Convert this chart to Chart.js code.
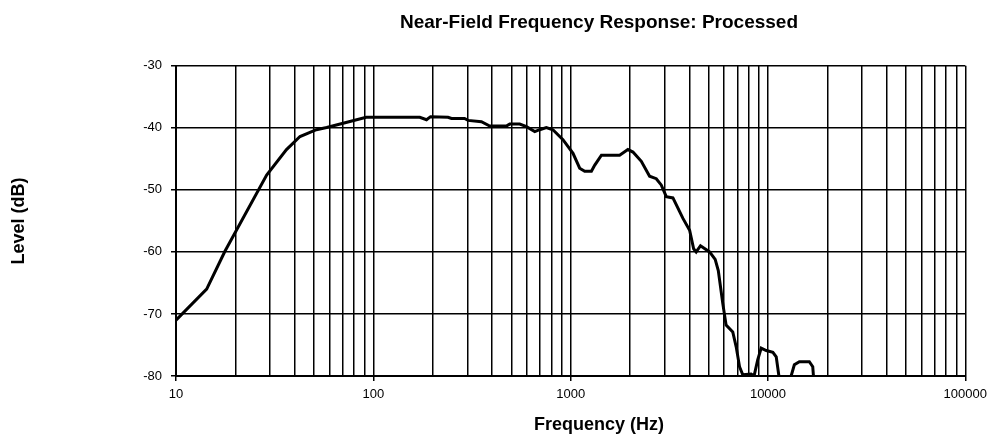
<!DOCTYPE html>
<html>
<head>
<meta charset="utf-8">
<title>Near-Field Frequency Response: Processed</title>
<script src="https://cdn.jsdelivr.net/npm/chart.js@4.4.1/dist/chart.umd.min.js"></script>
<style>
    html, body { margin: 0; padding: 0; background: #fff; }
    #wrap { width: 993px; height: 437px; }
</style>
</head>
<body>
<div id="wrap"><canvas id="response"></canvas></div>
<script>
// Frequency (Hz) and level (dB)
const frequencies = [
    10, 14.3, 17.7, 28.8, 36.3, 42.5, 51.5, 58, 70.3, 92,
    172, 186, 195, 239, 249, 290, 302, 353, 389, 472,
    491, 552, 597, 658, 697, 753, 813, 914, 1028, 1111,
    1178, 1274, 1325, 1432, 1771, 1950, 2069, 2281, 2512, 2716,
    2877, 3053, 3298, 3707, 4008, 4200, 4325, 4550, 5058, 5400,
    5600, 5900, 6135, 6630, 6900, 7175, 7450, 8220, 8500, 8870,
    9240, 9800, 10590, 11010, 11360, 11600, 12800, 13100, 13600, 14420,
    16200, 16860, 17000, 17300, 20000
]
const levels = [
    -71, -66, -59.9, -47.6, -43.5, -41.4, -40.3, -39.95, -39.25, -38.3,
    -38.3, -38.7, -38.2, -38.3, -38.5, -38.5, -38.8, -39.0, -39.7, -39.7,
    -39.4, -39.4, -39.8, -40.6, -40.3, -39.95, -40.3, -41.9, -44.1, -46.5,
    -47.0, -47.0, -46.0, -44.4, -44.4, -43.5, -43.9, -45.4, -47.8, -48.2,
    -49.2, -51.1, -51.3, -54.6, -56.5, -59.5, -60.0, -59.0, -60.0, -61.2,
    -63.0, -68.3, -71.8, -72.9, -75.3, -78.5, -79.8, -79.7, -80, -77.4,
    -75.5, -75.9, -76.2, -76.9, -80, -86, -86, -80, -78.2, -77.7,
    -77.7, -78.5, -80, -86, -86
]

const decadeLabels = [10, 100, 1000, 10000, 100000]
const levelTicks = [-80, -70, -60, -50, -40, -30]

const fontFamily = '"Liberation Sans", Arial, Helvetica, sans-serif'
// both titles sit centred a little right of the plot centre
const titleCenterX = 599

// grid lines at 1..9 x each decade, labels only on decades
const gridValues = []
decadeLabels.forEach((d, i) => {
    if (i === decadeLabels.length - 1) {
        gridValues.push(d)
        return
    }
    for (let k = 1; k <= 9; k++) gridValues.push(k * d)
})

const isDecade = (v) => decadeLabels.includes(v)

const points = frequencies.map((f, i) => ({ x: f, y: levels[i] }))

const shiftTitles = {
    id: 'shiftTitles',
    afterLayout(chart) {
        const tb = chart.titleBlock
        if (tb) {
            const dx = titleCenterX - (tb.left + tb.right) / 2
            tb.left += dx
            tb.right += dx
        }
        const xs = chart.scales.x
        if (xs && !xs._titlePatched) {
            const orig = xs.drawTitle
            xs.drawTitle = function() {
                const l = this.left, r = this.right
                const dx = titleCenterX - (l + r) / 2
                this.left = l + dx
                this.right = r + dx
                orig.call(this)
                this.left = l
                this.right = r
            }
            xs._titlePatched = true
        }
    }
}

const ctx = document.querySelector('#response').getContext('2d')

new Chart(ctx, {
    type: 'line',
    data: {
        datasets: [{
            label: 'Processed',
            data: points,
            borderColor: '#000',
            borderWidth: 3,
            pointRadius: 0,
            tension: 0,
            fill: false
        }]
    },
    plugins: [shiftTitles],
    options: {
        responsive: true,
        maintainAspectRatio: false,
        animation: false,
        layout: {
            padding: { left: 0, right: 27, top: 0, bottom: 0 }
        },
        plugins: {
            legend: { display: false },
            tooltip: { enabled: false },
            title: {
                display: true,
                text: 'Near-Field Frequency Response: Processed',
                fullSize: false,
                color: '#000',
                font: { family: fontFamily, size: 19, weight: 'bold' },
                padding: { top: 11, bottom: 32 }
            }
        },
        scales: {
            x: {
                type: 'logarithmic',
                min: 10,
                max: 100000,
                afterBuildTicks: (scale) => {
                    scale.ticks = gridValues.map(v => ({ value: v, major: isDecade(v) }))
                },
                afterFit: (scale) => { scale.height = 61 },
                title: {
                    display: true,
                    text: 'Frequency (Hz)',
                    color: '#000',
                    font: { family: fontFamily, size: 18, weight: 'bold' },
                    padding: { top: 0, bottom: 1 }
                },
                ticks: {
                    autoSkip: false,
                    maxRotation: 0,
                    color: '#000',
                    padding: 6,
                    font: { family: fontFamily, size: 13 },
                    callback: function(value) {
                        return isDecade(value) ? String(value) : ''
                    }
                },
                grid: {
                    color: '#000',
                    lineWidth: 1.5,
                    tickLength: 5,
                    tickColor: (c) => (c.tick && isDecade(c.tick.value)) ? '#000' : 'rgba(0,0,0,0)'
                },
                border: { color: '#000', width: 2 }
            },
            y: {
                type: 'linear',
                min: -80,
                max: -30,
                afterBuildTicks: (scale) => {
                    scale.ticks = levelTicks.map(v => ({ value: v }))
                },
                afterFit: (scale) => { scale.width = 176 },
                title: {
                    display: true,
                    text: 'Level (dB)',
                    color: '#000',
                    font: { family: fontFamily, size: 18, weight: 'bold' },
                    padding: { top: 8, bottom: 0 }
                },
                ticks: {
                    color: '#000',
                    padding: 9,
                    font: { family: fontFamily, size: 13 }
                },
                grid: {
                    color: '#000',
                    lineWidth: 1.5,
                    tickLength: 5,
                    tickColor: '#000'
                },
                border: { color: '#000', width: 2 }
            }
        }
    }
})
</script>
</body>
</html>
